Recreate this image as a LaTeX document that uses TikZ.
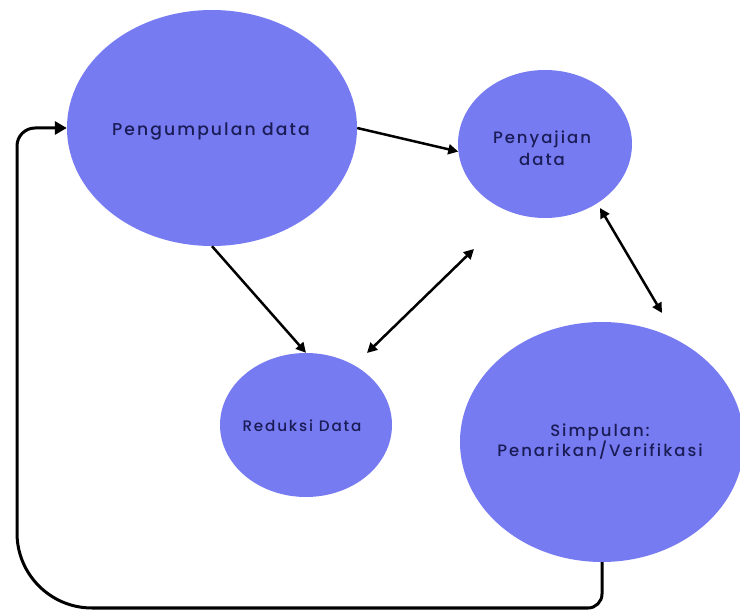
\documentclass[tikz,border=0pt]{standalone}
\usepackage{fontspec}
\setmainfont{Poppins}[LetterSpace=12,BoldFont={* Medium}]
\usetikzlibrary{shapes.geometric,arrows.meta}
\definecolor{blob}{HTML}{777BF2}
\definecolor{ink}{HTML}{1A1C55}
\begin{document}
\begin{tikzpicture}[x=1pt,y=-1pt,
  blob/.style={ellipse,fill=blob,inner sep=0pt},
  lbl/.style={text=ink,inner sep=0pt,align=center,font=\fontsize{16.5}{22}\bfseries},
  arr/.style={line width=2.5pt,-{Triangle[length=10pt,width=10pt]}},
  darr/.style={line width=2.5pt,{Triangle[length=10pt,width=10pt]}-{Triangle[length=10pt,width=10pt]}},
  loop/.style={line width=3pt,-{Triangle[length=12pt,width=13pt]}}]
\useasboundingbox (0,0) rectangle (740,612);
\node[blob,minimum width=290pt,minimum height=236pt] (e1) at (212,128) {};
\node[blob,minimum width=174pt,minimum height=148pt] (e2) at (545,144) {};
\node[blob,minimum width=172pt,minimum height=144pt] (e3) at (306,425) {};
\node[blob,minimum width=284pt,minimum height=240pt] (e4) at (602,442) {};
\node[lbl,anchor=base,font=\fontsize{17.2}{22}\bfseries] (t1) at (211,136) {Pengumpulan data};
\node[lbl] (t2) at (542,148) {Penyajian\\data};
\node[lbl,anchor=base,font=\fontsize{15.2}{20}\bfseries] (t3) at (302,432) {Reduksi Data};
\node[lbl,font=\fontsize{16.5}{20}\bfseries] (t4) at (600,442) {Simpulan:\\Penarikan/Verifikasi};
\coordinate (a1) at (367,353);
\coordinate (a2) at (474,249);
\coordinate (b1) at (600,208);
\coordinate (b2) at (662,313);
\draw[arr] (e1.east) -- (e2.185);
\draw[arr] (e1.south) -- (e3.north);
\draw[darr] (a1) -- (a2);
\draw[darr] (b1) -- (b2);
\draw[loop] (e4.south) [rounded corners=14pt] -- (602,608) [rounded corners=75pt] -- (17,608) [rounded corners=18pt] -- (17,128) -- (e1.west);
\end{tikzpicture}
\end{document}
